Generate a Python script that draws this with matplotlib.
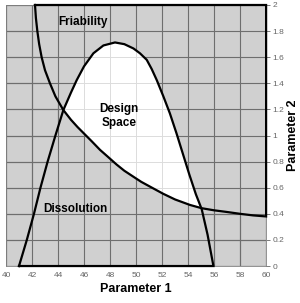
import matplotlib as mpl
import matplotlib.pyplot as plt

mpl.rcParams.update({
    "font.family": ["Liberation Sans", "DejaVu Sans"],
})

# ── data ─────────────────────────────────────────────────────────
# friability limit curve
fri_x = [42.23, 42.3, 42.41, 42.55, 42.74, 43.0, 43.38, 43.8, 44.41, 45.0,
         45.5, 46.0, 46.6, 47.23, 47.8, 48.5, 49.1, 49.8, 50.4, 51.08,
         52.1, 53.0, 54.15, 55.05, 56.0, 57.0, 58.0, 59.0, 60.0]
fri_y = [2.0, 1.9, 1.8, 1.7, 1.6, 1.5, 1.4, 1.3, 1.195, 1.12,
         1.065, 1.015, 0.955, 0.89, 0.84, 0.778, 0.73, 0.684, 0.645, 0.608,
         0.553, 0.51, 0.468, 0.443, 0.427, 0.414, 0.40, 0.388, 0.38]

# dissolution limit arch
dis_x = [41.0, 41.6, 42.15, 42.65, 43.2, 43.8, 44.41, 45.0, 45.44, 46.0,
         46.72, 47.49, 48.38, 49.1, 49.8, 50.3, 50.82, 51.2, 51.59, 52.1,
         52.6, 53.1, 53.6, 54.1, 54.6, 55.05, 55.5, 55.95]
dis_y = [0.0, 0.2, 0.4, 0.6, 0.8, 1.0, 1.195, 1.33, 1.425, 1.53,
         1.63, 1.69, 1.713, 1.70, 1.667, 1.63, 1.58, 1.51, 1.425, 1.30,
         1.17, 1.02, 0.86, 0.70, 0.55, 0.435, 0.24, 0.0]

x_ticks = list(range(40, 61, 2))
y_ticks = [0, 0.2, 0.4, 0.6, 0.8, 1, 1.2, 1.4, 1.6, 1.8, 2]
y_labels = ["0", "0.2", "0.4", "0.6", "0.8", "1", "1.2", "1.4", "1.6", "1.8", "2"]

XMIN, XMAX, YMIN, YMAX = 40, 60, 0, 2
GREY = "#d0d0d0"

fig = plt.figure(figsize=(3.0, 3.03), dpi=100)
ax = fig.add_axes([0.02, 0.122, 0.867, 0.8615])
ax.set_xlim(XMIN, XMAX)
ax.set_ylim(YMIN, YMAX)
ax.set_facecolor("white")

# light grid (visible inside the design space)
for xv in x_ticks:
    ax.axvline(xv, color="#dcdcdc", lw=0.7, zorder=0.5)
for yv in y_ticks:
    ax.axhline(yv, color="#dcdcdc", lw=0.7, zorder=0.5)

# ── failure regions (everything outside the design space) ───────
below_x = fri_x + [XMAX, XMIN, XMIN]
below_y = fri_y + [YMIN, YMIN, YMAX]
out_x = [XMIN] + dis_x + [XMAX, XMAX, XMIN]
out_y = [YMIN] + dis_y + [YMIN, YMAX, YMAX]

patches = []
patches += ax.fill(below_x, below_y, color=GREY, lw=0, zorder=1)
patches += ax.fill(out_x, out_y, color=GREY, lw=0, zorder=1)

# darker grid inside the grey regions
for p in patches:
    v = ax.vlines(x_ticks, YMIN, YMAX, color="#6e6e6e", lw=0.8, zorder=1.5)
    h = ax.hlines(y_ticks, XMIN, XMAX, color="#6e6e6e", lw=0.8, zorder=1.5)
    v.set_clip_path(p)
    h.set_clip_path(p)

# ── boundaries ───────────────────────────────────────────────────
ax.plot(fri_x + [XMAX, fri_x[0]], fri_y + [YMAX, YMAX], color="black",
        lw=1.6, zorder=3, clip_on=False, solid_joinstyle="miter")
ax.plot(dis_x + [dis_x[0]], dis_y + [dis_y[0]], color="black",
        lw=1.6, zorder=3, clip_on=False, solid_joinstyle="miter")

# ── region labels ────────────────────────────────────────────────
lbl = dict(fontsize=8.5, fontweight="bold", ha="center", va="center", zorder=4)
ax.text(45.9, 1.87, "Friability", **lbl)
ax.text(48.7, 1.15, "Design\nSpace", linespacing=1.25, **lbl)
ax.text(45.35, 0.44, "Dissolution", **lbl)

# ── axes styling ─────────────────────────────────────────────────
for s in ax.spines.values():
    s.set_color("#808080")
    s.set_linewidth(0.6)

ax.set_xticks(x_ticks)
ax.set_xticklabels([str(t) for t in x_ticks])
ax.tick_params(axis="x", length=0, pad=4, labelsize=6, labelcolor="#666666")
ax.yaxis.tick_right()
ax.set_yticks(y_ticks)
ax.set_yticklabels(y_labels)
ax.tick_params(axis="y", length=3, width=0.6, color="#666666", pad=1.5,
               labelsize=6, labelcolor="#666666")

ax.set_xlabel("Parameter 1", fontsize=9, fontweight="bold", labelpad=3)
ax.yaxis.set_label_position("right")
ax.set_ylabel("Parameter 2", fontsize=9, fontweight="bold", labelpad=2)

fig.savefig("out.png", dpi=100)
